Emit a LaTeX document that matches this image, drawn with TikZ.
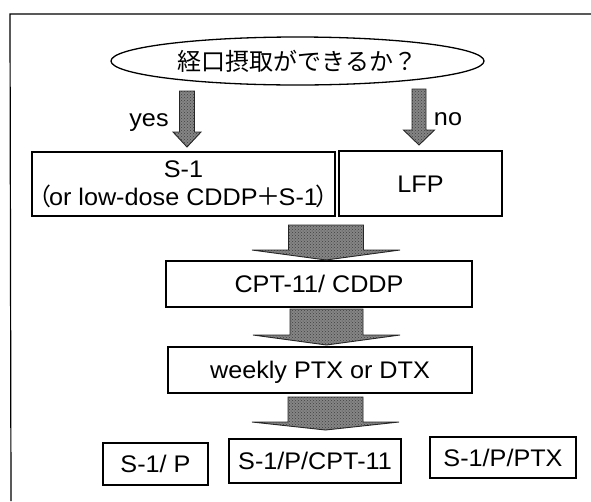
\documentclass[tikz,border=0pt]{standalone}
\usepackage{fontspec}
\setmainfont{Liberation Sans}[FakeStretch=1.05]
\newfontfamily\jp{Noto Sans CJK JP}
\usetikzlibrary{shapes.geometric,patterns}
\newcommand\myblockarrow[7]{% name, x, top, headbase, tip, shaft half width, head half width
  \draw[blockarrow] (#2-#6,#3) coordinate (#1-top) -- (#2-#6,#4) -- (#2-#7,#4) -- (#2,#5) coordinate (#1-tip) -- (#2+#7,#4) -- (#2+#6,#4) -- (#2+#6,#3) -- cycle;}
\tikzset{
  boxbase/.style={draw=black, line width=1.2pt, rectangle, inner sep=0pt, align=center,
    font=\fontsize{24}{28}\selectfont},
  boxnode/.style={boxbase, text height=17pt, text depth=0pt},
  labelnode/.style={inner sep=0pt, font=\fontsize{24}{28}\selectfont},
  blockarrow/.style={draw=black!85, line width=0.9pt, line join=miter,
    preaction={fill=black!48}, pattern=crosshatch dots, pattern color=black!75},
}
\begin{document}
\begin{tikzpicture}[x=1pt,y=-1pt]
\useasboundingbox (0,0) rectangle (591,501);
% frame
\draw[line width=1.2pt] (591,14) coordinate (fr-r) -- (10,14) coordinate (fr-tl) -- (11,501) coordinate (fr-b);
% question
\node[ellipse, draw=black, line width=1.3pt, inner sep=0pt, minimum width=373pt, minimum height=48pt,
  font=\jp\fontsize{24}{28}\selectfont] (q) at (297.5,61) {経口摂取ができるか？};
% boxes
\node[boxbase, minimum width=303pt, minimum height=64pt] (s1) at (183.5,184)
  {\rule{0pt}{17pt}S-1\\{\jp\kern-8pt （\kern-2pt}or low-dose CDDP{\jp\kern-1.5pt ＋\kern-1.5pt}S-1{\jp\kern-2pt ）\kern-8pt}};
\node[boxnode, minimum width=163pt, minimum height=65pt] (lfp) at (420.5,183.5) {LFP};
\node[boxnode, minimum width=306pt, minimum height=46pt] (cpt) at (319,284) {CPT-11/ CDDP};
\node[boxnode, minimum width=304pt, minimum height=46pt] (wk) at (320,370) {weekly PTX or DTX};
\node[boxnode, minimum width=105pt, minimum height=42pt] (b1) at (155.5,464) {S-1/ P};
\node[boxnode, minimum width=172pt, minimum height=44pt] (b2) at (315,461) {S-1/P/CPT-11};
\node[boxnode, minimum width=146pt, minimum height=41pt] (b3) at (503,457.5) {S-1/P/PTX};
% labels
\node[labelnode, anchor=base] (yes) at (149,126) {yes};
\node[labelnode, anchor=base] (no) at (448,125) {no};
% arrows
\myblockarrow{ay}{187}{91}{132}{147}{7.5}{14}
\myblockarrow{an}{419}{89}{130}{145}{7}{15.5}
\myblockarrow{a1}{326}{225}{250}{260}{37.5}{74}
\myblockarrow{a2}{326.5}{309}{335}{345}{36.5}{73.5}
\myblockarrow{a3}{325.5}{397}{422}{430}{37.5}{73.5}
\end{tikzpicture}
\end{document}
